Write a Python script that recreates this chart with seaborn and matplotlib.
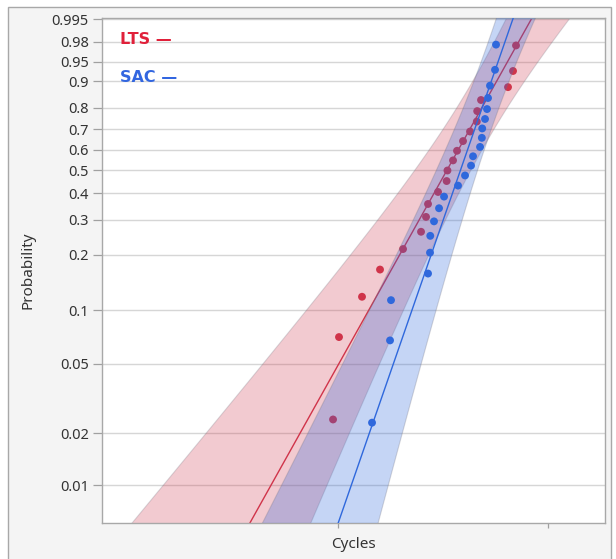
import numpy as np
import pandas as pd
import matplotlib
matplotlib.use("Agg")
import matplotlib.pyplot as plt
from matplotlib.patches import Rectangle
from matplotlib.ticker import NullLocator
import seaborn as sns

# ---------------- data ----------------
lts_cycles = [947, 1011, 1301, 1585, 2040, 2485, 2625, 2683, 2994, 3290, 3320,
              3529, 3687, 3938, 4253, 4580, 4600, 4797, 6449, 6813, 7040]
lts_prob = [0.024, 0.071, 0.119, 0.167, 0.214, 0.262, 0.310, 0.357, 0.405, 0.452, 0.500,
            0.548, 0.595, 0.643, 0.690, 0.738, 0.786, 0.833, 0.881, 0.929, 0.976]

sac_cycles = [1452, 1769, 1788, 2683, 2742, 2750, 2865, 3027, 3198, 3728, 4025,
              4299, 4394, 4746, 4840, 4860, 5012, 5124, 5179, 5294, 5593, 5655]
sac_prob = [0.023, 0.068, 0.114, 0.159, 0.205, 0.250, 0.295, 0.341, 0.386, 0.432, 0.477,
            0.523, 0.568, 0.614, 0.659, 0.705, 0.750, 0.795, 0.841, 0.886, 0.932, 0.977]

prob_ticks = [0.01, 0.02, 0.05, 0.1, 0.2, 0.3, 0.4, 0.5, 0.6, 0.7, 0.8, 0.9, 0.95, 0.98, 0.995]
prob_tick_labels = ["0.01", "0.02", "0.05", "0.1", "0.2", "0.3", "0.4", "0.5",
                    "0.6", "0.7", "0.8", "0.9", "0.95", "0.98", "0.995"]
cycle_ticks = [1000, 10000]

# Weibull fit parameters (shape, scale)
lts_beta, lts_eta = 2.198, 3893
sac_beta, sac_eta = 3.542, 4242
# confidence band parameters (variance floor, curvature, centre in log10 cycles)
lts_band = (0.3275, 2.818, 3.676)
sac_band = (0.4172, 7.014, 3.724)

series_names = ["LTS", "SAC"]
red = "#d0344a"
blue = "#2f68dc"


def weib(p):
    p = np.asarray(p, dtype=float)
    return np.log(-np.log(1.0 - p))


# ---------------- style ----------------
sns.set_theme(style="white")
plt.rcParams["font.family"] = ["Noto Sans", "DejaVu Sans"]

W, H = 616, 559
fig = plt.figure(figsize=(W / 100, H / 100), dpi=100, facecolor="white")
bg = Rectangle((8 / W, -0.02), (611 - 8) / W, 1.02 - 7 / H,
               transform=fig.transFigure, facecolor="#f4f4f4",
               edgecolor="#a8a8a8", lw=1.0, zorder=-10)
fig.patches.append(bg)

ax = fig.add_axes([102 / W, 1 - 523 / H, (605 - 102) / W, (523 - 18) / H])
ax.set_zorder(5)
ax.set_facecolor("white")
ax.set_xscale("log")
ax.set_xlim(75.2, 18677)
ax.set_ylim(-5.111, 1.686)

xs = np.logspace(1.7, 4.4, 600)
u = np.log10(xs)


def draw_series(cycles, prob, beta, eta, band, color, alpha, z):
    wline = beta * (np.log(xs) - np.log(eta))
    a, b, u0 = band
    half = np.sqrt(a + b * (u - u0) ** 2)
    ax.fill_between(xs, wline - half, wline + half, facecolor=color, alpha=alpha,
                    edgecolor=(0.45, 0.45, 0.5, 0.5), lw=0.8, zorder=z)
    sns.lineplot(x=xs, y=wline, ax=ax, color=color, lw=1.0, sort=False,
                 estimator=None, zorder=z + 0.1)
    df = pd.DataFrame({"cycles": cycles, "w": weib(prob)})
    sns.scatterplot(data=df, x="cycles", y="w", ax=ax, color=color, s=32,
                    edgecolor="none", linewidth=0, zorder=z + 0.2)


draw_series(lts_cycles, lts_prob, lts_beta, lts_eta, lts_band, red, 0.26, 2)
draw_series(sac_cycles, sac_prob, sac_beta, sac_eta, sac_band, blue, 0.28, 3)

# axes cosmetics
ax.set_yticks(weib(prob_ticks))
ax.set_yticklabels(prob_tick_labels)
ax.set_xticks(cycle_ticks)
ax.set_xticklabels(["", ""])
ax.xaxis.set_minor_locator(NullLocator())
ax.yaxis.set_minor_locator(NullLocator())
ax.grid(axis="y", color="#d6d6d6", lw=1.0, zorder=0)
ax.grid(axis="x", visible=False)
ax.set_axisbelow(True)
for s in ax.spines.values():
    s.set_color("#a8a8a8")
    s.set_linewidth(1.0)
ax.tick_params(axis="y", direction="out", length=6.5, width=0.9, color="#a0a0a0",
               labelsize=10.5, labelcolor="#333333", pad=3, left=True)
ax.tick_params(axis="x", direction="out", length=3.6, width=0.9, color="#a0a0a0",
               bottom=True)

ax.set_xlabel("Cycles", fontsize=11, color="#333333")
ax.xaxis.set_label_coords(0.5, -(544 - 523) / 505)
ax.xaxis.label.set_va("center")
ax.set_ylabel("Probability", fontsize=11, color="#333333")
ax.yaxis.set_label_coords((28 - 102) / 503, 0.5)
ax.yaxis.label.set_va("center")
ax.yaxis.label.set_ha("center")

# legend-like labels
ax.text((120 - 102) / 503, 1 - (39 - 18) / 505, series_names[0] + " \u2014",
        transform=ax.transAxes, color="#e0203a", fontsize=11.5, fontweight="bold",
        family=["DejaVu Sans"], va="center", ha="left")
ax.text((120 - 102) / 503, 1 - (78 - 18) / 505, series_names[1] + " \u2014",
        transform=ax.transAxes, color="#3266e0", fontsize=11.5, fontweight="bold",
        family=["DejaVu Sans"], va="center", ha="left")

fig.savefig("out.png", dpi=100)
